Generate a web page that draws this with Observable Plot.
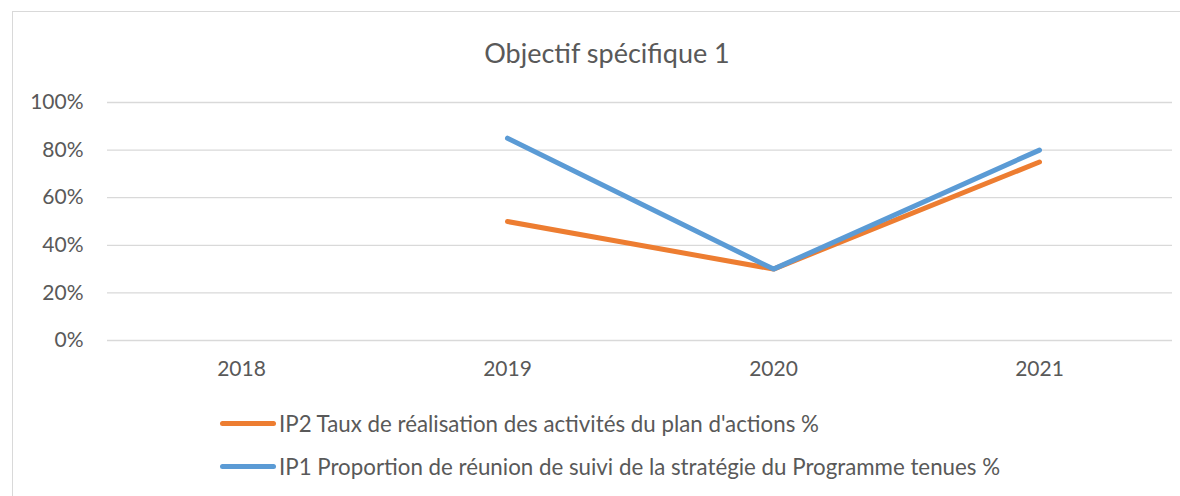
<!DOCTYPE html>
<html>
<head>
<meta charset="utf-8">
<script src="https://cdn.jsdelivr.net/npm/d3@7"></script>
<script src="https://cdn.jsdelivr.net/npm/@observablehq/plot@0.6"></script>
<style>
  html, body { margin: 0; padding: 0; background: #fff; width: 1180px; height: 496px; overflow: hidden; font-family: Lato, "Open Sans", sans-serif; }
  #frame { position: absolute; left: 12px; top: 11px; width: 1200px; height: 520px; border: 1px solid #d9d9d9; box-sizing: border-box; }
  #title { position: absolute; left: 0; width: 1214px; top: 35px; text-align: center; font-size: 27px; color: #595959; line-height: 36px; }
  #chart { position: absolute; left: 0; top: 80px; }
  .leg { position: absolute; left: 220px; height: 30px; display: flex; align-items: center; color: #595959; font-size: 22.3px; white-space: nowrap; }
  .sw { width: 56px; height: 5px; border-radius: 3px; margin-right: 3px; }
</style>
</head>
<body>
<div id="frame"></div>
<div id="title"></div>
<div id="chart"></div>
<div id="legend"></div>
<script>
const title = "Objectif spécifique 1";
const years = ["2018", "2019", "2020", "2021"];
const ip2Name = "IP2 Taux de réalisation des activités du plan d'actions %";
const ip1Name = "IP1 Proportion de réunion de suivi de la stratégie du Programme tenues %";
const ip2Values = [null, 0.50, 0.30, 0.75];
const ip1Values = [null, 0.85, 0.30, 0.80];
const yTicks = [0, 0.2, 0.4, 0.6, 0.8, 1.0];
const colors = {ip2: "#ED7D31", ip1: "#5B9BD5"};

document.getElementById("title").textContent = title;

const toRows = (vals) => vals.map((v, i) => ({year: years[i], value: v}));

const chart = Plot.plot({
  width: 1180,
  height: 320,
  marginTop: 22,
  marginBottom: 60,
  marginLeft: 107,
  marginRight: 8,
  style: {fontFamily: "Lato, 'Open Sans', sans-serif", fontSize: "21px", color: "#595959", background: "transparent"},
  x: {type: "point", domain: years, padding: 0.5},
  y: {domain: [0, 1]},
  marks: [
    Plot.ruleY(yTicks, {stroke: "#d9d9d9", strokeWidth: 1.3}),
    Plot.axisY({ticks: yTicks, tickFormat: d => Math.round(d * 100) + "%", tickSize: 0, tickPadding: 24, label: null, fill: "#595959", fontSize: 21}),
    Plot.axisX({tickSize: 0, tickPadding: 21, label: null, fill: "#595959", fontSize: 21}),
    Plot.line(toRows(ip2Values), {x: "year", y: "value", stroke: colors.ip2, strokeWidth: 5, strokeLinecap: "round", strokeLinejoin: "round"}),
    Plot.line(toRows(ip1Values), {x: "year", y: "value", stroke: colors.ip1, strokeWidth: 5, strokeLinecap: "round", strokeLinejoin: "round"})
  ]
});
document.getElementById("chart").appendChild(chart);

const legend = document.getElementById("legend");
[[ip2Name, colors.ip2, 408], [ip1Name, colors.ip1, 451]].forEach(([name, c, top]) => {
  const row = document.createElement("div");
  row.className = "leg";
  row.style.top = top + "px";
  const sw = document.createElement("div");
  sw.className = "sw";
  sw.style.background = c;
  const t = document.createElement("span");
  t.textContent = name;
  row.appendChild(sw);
  row.appendChild(t);
  legend.appendChild(row);
});
</script>
</body>
</html>
